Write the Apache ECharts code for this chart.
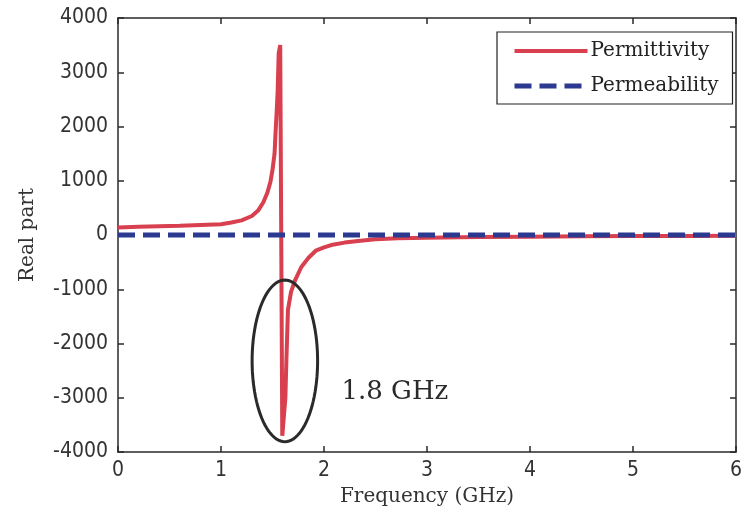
<!DOCTYPE html>
<html>
<head>
<meta charset="utf-8">
<script src="https://cdn.jsdelivr.net/npm/echarts@6/dist/echarts.min.js"></script>
<style>
html,body{margin:0;padding:0;background:#fff;}
#chart{width:745px;height:525px;}
</style>
</head>
<body>
<div id="chart"></div>
<script>
// ---- data ----
const freqGHz = [0, 0.2, 0.4, 0.6, 0.8, 1.0, 1.1, 1.2, 1.3, 1.36, 1.41, 1.45, 1.48, 1.5, 1.52, 1.53, 1.54, 1.55, 1.56, 1.575, 1.59, 1.595, 1.61, 1.625, 1.635, 1.65, 1.68, 1.72, 1.78, 1.85, 1.92, 2.0, 2.07, 2.2, 2.33, 2.5, 2.72, 3.0, 3.5, 4.0, 4.5, 5.0, 5.5, 6.0];
const permittivity = [140, 150, 160, 170, 185, 200, 230, 270, 350, 450, 600, 780, 980, 1200, 1500, 1900, 2250, 2650, 3350, 3500, 3480, -3700, -3700, -3000, -2300, -1380, -1050, -830, -590, -420, -290, -230, -185, -140, -110, -80, -60, -50, -38, -30, -25, -20, -18, -15];
const permeabilityFreq = [0, 1, 2, 3, 4, 5, 6];
const permeability = [0, 0, 0, 0, 0, 0, 0];
const seriesNames = ['Permittivity', 'Permeability'];
const xTickMin = 0, xTickMax = 6, xTickStep = 1;
const yTickMin = -4000, yTickMax = 4000, yTickStep = 1000;
const annotationText = '1.8 GHz';
const ellipseCenter = [1.62, -2320];
const ellipseRadii = [0.318, 1490];
const annotationPos = [2.17, -2890];

const serif = "'DejaVu Serif', 'Liberation Serif', serif";
const tickFont = "'DejaVu Sans Condensed', 'Liberation Sans Narrow', 'DejaVu Sans', sans-serif";
const axisColor = '#2a2a2a';
const redColor = '#d8404f';
const blueColor = '#2b3990';

const chart = echarts.init(document.getElementById('chart'), null, {renderer: 'canvas'});

function pairs(xs, ys) { return xs.map((x, i) => [x, ys[i]]); }

const baseX = {
  type: 'value', min: xTickMin, max: xTickMax, interval: xTickStep,
  axisLine: {show: true, onZero: false, lineStyle: {color: axisColor, width: 1.5}},
  axisTick: {show: true, inside: true, length: 6, lineStyle: {color: axisColor, width: 1.5}},
  splitLine: {show: false}
};
const baseY = {
  type: 'value', min: yTickMin, max: yTickMax, interval: yTickStep,
  axisLine: {show: true, onZero: false, lineStyle: {color: axisColor, width: 1.5}},
  axisTick: {show: true, inside: true, length: 6, lineStyle: {color: axisColor, width: 1.5}},
  splitLine: {show: false}
};

const option = {
  backgroundColor: '#ffffff',
  animation: false,
  grid: {left: 118, right: 5, top: 18, bottom: 73, containLabel: false},
  legend: {
    orient: 'vertical',
    left: 497, top: 32,
    data: [
      {name: seriesNames[0], lineStyle: {width: 4}},
      {name: seriesNames[1], lineStyle: {width: 5}}
    ],
    itemWidth: 73, itemHeight: 14, itemGap: 15,
    padding: [9, 14, 8, 15],
    borderColor: '#222', borderWidth: 1.2,
    backgroundColor: '#fff',
    itemStyle: {opacity: 0, borderWidth: 0},
    textStyle: {fontFamily: serif, fontSize: 20, color: '#222', padding: [0, 0, 0, -2]}
  },
  xAxis: [
    Object.assign({}, baseX, {
      position: 'bottom',
      name: 'Frequency (GHz)', nameLocation: 'middle', nameGap: 35,
      nameTextStyle: {fontFamily: serif, fontSize: 20, color: '#333'},
      axisLabel: {show: true, margin: 8, fontFamily: tickFont, fontSize: 21, color: '#333'}
    }),
    Object.assign({}, baseX, {position: 'top', axisLabel: {show: false}})
  ],
  yAxis: [
    Object.assign({}, baseY, {
      position: 'left',
      name: 'Real part', nameLocation: 'middle', nameGap: 80,
      nameTextStyle: {fontFamily: serif, fontSize: 20, color: '#333'},
      axisLabel: {show: true, margin: 10, fontFamily: tickFont, fontSize: 21, color: '#333',
        formatter: v => String(v)}
    }),
    Object.assign({}, baseY, {position: 'right', axisLabel: {show: false}})
  ],
  series: [
    {
      name: seriesNames[0], type: 'line', xAxisIndex: 0, yAxisIndex: 0,
      data: pairs(freqGHz, permittivity),
      symbol: 'none', smooth: false,
      lineStyle: {color: redColor, width: 4, join: 'bevel'},
      itemStyle: {color: redColor},
      z: 2
    },
    {
      name: seriesNames[1], type: 'line', xAxisIndex: 0, yAxisIndex: 0,
      data: pairs(permeabilityFreq, permeability),
      symbol: 'none',
      lineStyle: {color: blueColor, width: 5, type: [17, 8]},
      itemStyle: {color: blueColor},
      z: 3
    }
  ]
};
chart.setOption(option);

// annotation: ellipse + text, positioned through the axes
function toPx(p) { return chart.convertToPixel({gridIndex: 0}, p); }
const ellipsePts = [];
for (let k = 0; k < 96; k++) {
  const t = k / 96 * Math.PI * 2;
  ellipsePts.push(toPx([ellipseCenter[0] + ellipseRadii[0] * Math.cos(t), ellipseCenter[1] + ellipseRadii[1] * Math.sin(t)]));
}
const txtPx = toPx(annotationPos);
chart.setOption({
  graphic: [
    {type: 'polygon', shape: {points: ellipsePts}, style: {fill: 'none', stroke: '#2a2a2a', lineWidth: 3}, z: 10},
    {type: 'text', x: txtPx[0], y: txtPx[1],
      style: {text: annotationText, fill: '#2a2a2a', font: "26px 'DejaVu Serif', 'Liberation Serif', serif",
        textAlign: 'left', textVerticalAlign: 'middle', verticalAlign: 'middle'}, z: 10}
  ]
});
</script>
</body>
</html>
